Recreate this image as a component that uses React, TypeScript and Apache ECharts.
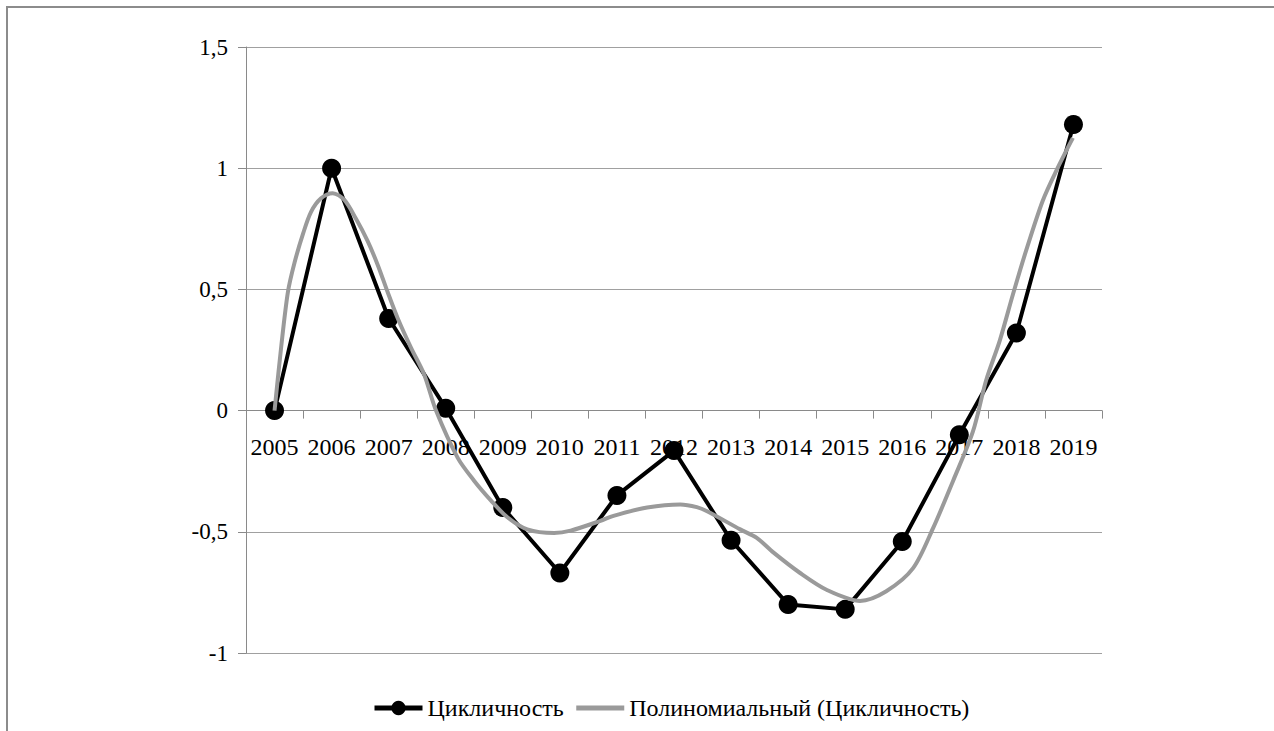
import React, { useEffect, useRef } from "react";
import * as echarts from "echarts";

const categories = ["2005", "2006", "2007", "2008", "2009", "2010", "2011", "2012", "2013", "2014", "2015", "2016", "2017", "2018", "2019"];
const cyclicity = [0, 1.0, 0.38, 0.01, -0.4, -0.67, -0.35, -0.165, -0.535, -0.8, -0.82, -0.54, -0.1, 0.32, 1.18];

// Polynomial trendline (x in category-index units)
const trendX = [0, 0.12, 0.235, 0.35, 0.5, 0.64, 0.815, 1.02, 1.22, 1.43, 1.63, 1.81, 1.98, 2.16, 2.39, 2.62, 2.83, 3.21, 3.5, 3.79, 4.08, 4.43, 4.9, 5.19, 5.71, 5.94, 6.53, 7.11, 7.4, 7.58, 8.16, 8.45, 8.74, 9.21, 9.68, 10.26, 10.72, 11.19, 11.54, 11.89, 12.24, 12.47, 12.71, 12.94, 13.17, 13.46, 13.7, 13.99];
const trendY = [0, 0.27, 0.49, 0.61, 0.73, 0.82, 0.876, 0.897, 0.87, 0.79, 0.7, 0.6, 0.49, 0.38, 0.26, 0.15, 0.0, -0.195, -0.29, -0.37, -0.44, -0.49, -0.505, -0.495, -0.455, -0.434, -0.4, -0.387, -0.398, -0.415, -0.49, -0.525, -0.585, -0.67, -0.74, -0.785, -0.745, -0.65, -0.485, -0.29, -0.085, 0.125, 0.29, 0.48, 0.66, 0.865, 0.99, 1.125];

const yTicks = { min: -1, max: 1.5, interval: 0.5 };
const seriesNames = ["Цикличность", "Полиномиальный (Цикличность)"];

const FONT = "Liberation Serif";
const GRID = { left: 246, right: 172, top: 47, bottom: 78, containLabel: false };
// distance (px) from the bottom of the plot to the y = 0 line
const PLOT_H = 731 - GRID.top - GRID.bottom;
const ZERO_OFFSET = ((0 - yTicks.min) / (yTicks.max - yTicks.min)) * PLOT_H;

export default function App() {
  const ref = useRef<HTMLDivElement>(null);
  useEffect(() => {
    if (!ref.current) return;
    const chart = echarts.init(ref.current, undefined, { renderer: "svg" });
    chart.setOption({
      animation: false,
      backgroundColor: "#ffffff",
      textStyle: { fontFamily: FONT },
      grid: [GRID, GRID],
      legend: {
        left: 367,
        top: 691,
        itemWidth: 48,
        itemHeight: 18,
        itemGap: 10,
        textStyle: { fontFamily: FONT, fontSize: 24, color: "#000" },
        data: [
          { name: seriesNames[0], lineStyle: { width: 5, color: "#000" } },
          { name: seriesNames[1], itemStyle: { opacity: 0 }, lineStyle: { width: 5, color: "#9a9a9a" } },
        ],
      },
      xAxis: [
        {
          type: "category",
          gridIndex: 0,
          position: "bottom",
          offset: -ZERO_OFFSET,
          data: categories,
          boundaryGap: true,
          axisLine: { onZero: false, lineStyle: { color: "#8a8a8a", width: 1 } },
          axisTick: { show: true, length: 8, lineStyle: { color: "#8a8a8a" } },
          axisLabel: { fontFamily: FONT, fontSize: 24, color: "#000", margin: 24, interval: 0 },
          splitLine: { show: false },
        },
        {
          type: "value",
          gridIndex: 1,
          min: -0.5,
          max: 14.5,
          show: false,
          splitLine: { show: false },
        },
      ],
      yAxis: [
        {
          type: "value",
          gridIndex: 0,
          min: yTicks.min,
          max: yTicks.max,
          interval: yTicks.interval,
          axisLine: { show: true, onZero: false, lineStyle: { color: "#8a8a8a", width: 1 } },
          axisTick: { show: true, length: 8, lineStyle: { color: "#8a8a8a" } },
          axisLabel: {
            fontFamily: FONT,
            fontSize: 23,
            color: "#000",
            margin: 18,
            formatter: (v: number) => String(v).replace(".", ","),
          },
          splitLine: { show: true, lineStyle: { color: "#a0a0a0", width: 1 } },
        },
        {
          type: "value",
          gridIndex: 1,
          min: yTicks.min,
          max: yTicks.max,
          interval: yTicks.interval,
          show: false,
          splitLine: { show: false },
        },
      ],
      series: [
        {
          name: seriesNames[0],
          type: "line",
          xAxisIndex: 0,
          yAxisIndex: 0,
          data: cyclicity,
          symbol: "circle",
          symbolSize: 19,
          itemStyle: { color: "#000" },
          lineStyle: { color: "#000", width: 4 },
          z: 2,
        },
        {
          name: seriesNames[1],
          type: "line",
          xAxisIndex: 1,
          yAxisIndex: 1,
          data: trendX.map((x, i) => [x, trendY[i]]),
          showSymbol: false,
          symbol: "none",
          smooth: 0.3,
          itemStyle: { color: "#9a9a9a" },
          lineStyle: { color: "#9a9a9a", width: 4 },
          z: 3,
        },
      ],
    });
    return () => chart.dispose();
  }, []);
  return (
    <div style={{ position: "fixed", left: 0, top: 0, width: 1274, height: 731, background: "#fff" }}>
      <div ref={ref} style={{ position: "absolute", left: 0, top: 0, width: 1274, height: 731 }} />
      <div
        style={{
          position: "absolute",
          left: 6,
          top: 6,
          width: 1300,
          height: 760,
          borderTop: "2px solid #8c8c8c",
          borderLeft: "2px solid #8c8c8c",
          pointerEvents: "none",
        }}
      />
    </div>
  );
}
